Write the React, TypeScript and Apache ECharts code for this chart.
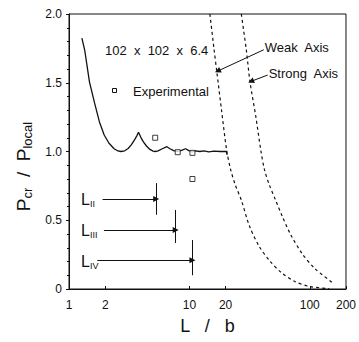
import React, { useEffect, useRef } from 'react';
import * as echarts from 'echarts';

// ---- data ----
const xTickValues = [1, 2, 10, 20, 100, 200];

// theoretical local-buckling curve (solid)
const theoryL = [1.28, 1.35, 1.48, 1.63, 1.79, 1.96, 2.15, 2.37, 2.55, 2.7, 2.9, 3.1, 3.3, 3.5, 3.65, 3.78, 3.95, 4.15, 4.4, 4.7, 5.0, 5.2, 5.5, 5.9, 6.5, 6.9, 7.4, 8.0, 8.6, 9.3, 9.9, 10.6, 11.3, 12.2, 13.2, 14.5, 16, 18, 20.3, 20.6];
const theoryP = [1.825, 1.738, 1.505, 1.353, 1.215, 1.12, 1.06, 1.02, 1.004, 1.0, 1.005, 1.022, 1.05, 1.085, 1.112, 1.14, 1.103, 1.07, 1.04, 1.015, 1.003, 1.0, 1.005, 1.018, 1.035, 1.02, 1.006, 1.0, 1.008, 1.02, 1.006, 0.998, 1.004, 1.0, 1.004, 0.998, 1.002, 1.0, 1.0, 0.975];

// weak axis (dashed)
const weakL = [14.8, 16.0, 16.9, 18.5, 20.4, 22, 24, 27, 31.5, 38, 47, 58, 75, 100, 145];
const weakP = [2.0, 1.75, 1.58, 1.3, 1.01, 0.87, 0.76, 0.647, 0.46, 0.31, 0.2, 0.12, 0.055, 0.018, 0.003];

// strong axis (dashed)
const strongL = [27, 29.7, 31.9, 35.7, 39.2, 42, 46, 52, 59, 69, 86, 110, 155];
const strongP = [2.0, 1.74, 1.505, 1.25, 1.01, 0.87, 0.76, 0.647, 0.53, 0.4, 0.26, 0.15, 0.045];

// experimental points
const expL = [5.2, 8.0, 10.6, 10.6];
const expP = [1.1, 0.995, 0.99, 0.8];

// mode-length arrows L_II, L_III, L_IV
const modeNames = ['II', 'III', 'IV'];
const modeStart = [1.9, 1.95, 1.72];
const modeEnd = [5.3, 7.7, 10.6];
const modeLevel = [0.655, 0.43, 0.21];
const modeBarTop = [0.77, 0.575, 0.356];
const modeBarBottom = [0.54, 0.335, 0.1];

// annotation arrows (tail -> head)
const weakArrowL = [41.5, 17.2];
const weakArrowP = [1.74, 1.585];
const strongArrowL = [44.7, 32.5];
const strongArrowP = [1.556, 1.51];

const sectionLabel = '102  x  102  x  6.4';
const legendLabel = 'Experimental';

export default function App() {
  const ref = useRef<HTMLDivElement>(null);
  useEffect(() => {
    if (!ref.current) return;
    const chart = echarts.init(ref.current, null, { renderer: 'svg' });
    const font = '"Liberation Sans", Arial, Helvetica, sans-serif';
    const ink = '#111';
    const zip = (a: number[], b: number[]) => a.map((v, i) => [v, b[i]]);

    const markLines: any[] = [];
    modeNames.forEach((_, i) => {
      markLines.push([
        { coord: [modeStart[i], modeLevel[i]], symbol: 'none' },
        { coord: [modeEnd[i], modeLevel[i]], symbol: 'triangle', symbolSize: 6 },
      ]);
      markLines.push([
        { coord: [modeEnd[i], modeBarTop[i]], symbol: 'none' },
        { coord: [modeEnd[i], modeBarBottom[i]], symbol: 'none' },
      ]);
    });
    markLines.push([
      { coord: [weakArrowL[0], weakArrowP[0]], symbol: 'none' },
      { coord: [weakArrowL[1], weakArrowP[1]], symbol: 'triangle', symbolSize: 6 },
    ]);
    markLines.push([
      { coord: [strongArrowL[0], strongArrowP[0]], symbol: 'none' },
      { coord: [strongArrowL[1], strongArrowP[1]], symbol: 'triangle', symbolSize: 6 },
    ]);

    const option: any = {
      animation: false,
      backgroundColor: '#fff',
      textStyle: { fontFamily: font, color: ink },
      grid: {
        left: 69, top: 14, right: 7, bottom: 53,
        show: true, borderColor: ink, borderWidth: 1, backgroundColor: 'transparent',
      },
      xAxis: {
        type: 'log', logBase: 10, min: 1, max: 200,
        name: 'L   /   b', nameLocation: 'middle', nameGap: 28,
        nameTextStyle: { fontSize: 18, color: ink, fontFamily: font },
        axisLine: { show: true, lineStyle: { color: ink, width: 1 } },
        axisTick: { show: true, inside: true, length: 3, customValues: xTickValues, lineStyle: { color: ink } },
        axisLabel: {
          customValues: xTickValues, fontSize: 12, color: ink, margin: 10, fontFamily: font,
          formatter: (v: number) => String(Math.round(v)),
        },
        splitLine: { show: false },
        minorTick: { show: false },
      },
      yAxis: {
        type: 'value', min: 0, max: 2, interval: 0.5,
        name: '{P|P}{s|cr}{P|  /  }{P|P}{s|local}',
        nameLocation: 'middle', nameGap: 32,
        nameTextStyle: {
          color: ink, fontFamily: font, padding: [0, 30, 0, 0],
          rich: {
            P: { fontSize: 19, lineHeight: 22, color: ink, fontFamily: font },
            s: { fontSize: 13, lineHeight: 13, padding: [12, 0, 0, 0], verticalAlign: 'bottom', color: ink, fontFamily: font },
          },
        },
        axisLine: { show: true, lineStyle: { color: ink, width: 1 } },
        axisTick: { show: true, length: 3, lineStyle: { color: ink } },
        minorTick: { show: true, splitNumber: 5, length: 2, lineStyle: { color: ink } },
        axisLabel: {
          fontSize: 12, color: ink, margin: 7, fontFamily: font,
          formatter: (v: number) => (v === 0 ? '0' : v.toFixed(1)),
        },
        splitLine: { show: false },
      },
      series: [
        {
          name: 'Theory', type: 'line', data: zip(theoryL, theoryP),
          showSymbol: false, symbol: 'none', smooth: false,
          lineStyle: { color: ink, width: 1.3 },
          markLine: {
            silent: true, symbol: ['none', 'none'], animation: false,
            lineStyle: { color: ink, width: 1, type: 'solid' },
            label: { show: false },
            data: markLines,
          },
        },
        {
          name: 'Weak Axis', type: 'line', data: zip(weakL, weakP),
          showSymbol: false, symbol: 'none', smooth: 0.3,
          lineStyle: { color: ink, width: 1.2, type: [3, 3] },
        },
        {
          name: 'Strong Axis', type: 'line', data: zip(strongL, strongP),
          showSymbol: false, symbol: 'none', smooth: 0.3,
          lineStyle: { color: ink, width: 1.2, type: [3, 3] },
        },
        {
          name: legendLabel, type: 'scatter', data: zip(expL, expP),
          symbol: 'rect', symbolSize: 5,
          itemStyle: { color: '#fff', borderColor: ink, borderWidth: 1 },
          z: 5,
        },
      ],
    };
    chart.setOption(option);

    const px = (l: number, p: number) => chart.convertToPixel({ gridIndex: 0 }, [l, p]) as number[];
    const graphics: any[] = [];
    graphics.push({
      type: 'text', x: 105, y: 50,
      style: { text: sectionLabel, fontSize: 13, fontFamily: font, fill: ink, verticalAlign: 'middle' },
    });
    graphics.push({
      type: 'rect', shape: { x: 112.5, y: 88.5, width: 4, height: 4 },
      style: { fill: '#fff', stroke: ink, lineWidth: 1 },
    });
    graphics.push({
      type: 'text', x: 133, y: 91,
      style: { text: legendLabel, fontSize: 13, fontFamily: font, fill: ink, verticalAlign: 'middle' },
    });
    const wt = px(weakArrowL[0], weakArrowP[0]);
    graphics.push({
      type: 'text', x: wt[0] + 1, y: wt[1] - 2,
      style: { text: 'Weak  Axis', fontSize: 13, fontFamily: font, fill: ink, verticalAlign: 'middle' },
    });
    const st = px(strongArrowL[0], strongArrowP[0]);
    graphics.push({
      type: 'text', x: st[0] + 1, y: st[1] - 2,
      style: { text: 'Strong  Axis', fontSize: 13, fontFamily: font, fill: ink, verticalAlign: 'middle' },
    });
    modeNames.forEach((m, i) => {
      const p = px(modeStart[i], modeLevel[i]);
      graphics.push({
        type: 'text', x: 81, y: p[1] + 1,
        style: {
          text: `{L|L}{s|${m}}`, verticalAlign: 'middle', fill: ink,
          rich: {
            L: { fontSize: 16, lineHeight: 18, fontFamily: font, fill: ink },
            s: { fontSize: 9, lineHeight: 9, padding: [11, 0, 0, 0], verticalAlign: 'bottom', fontFamily: font, fill: ink },
          },
        },
      });
    });
    chart.setOption({ graphic: graphics });

    return () => chart.dispose();
  }, []);
  return <div ref={ref} style={{ position: 'fixed', left: 0, top: 0, width: 359, height: 342 }} />;
}
